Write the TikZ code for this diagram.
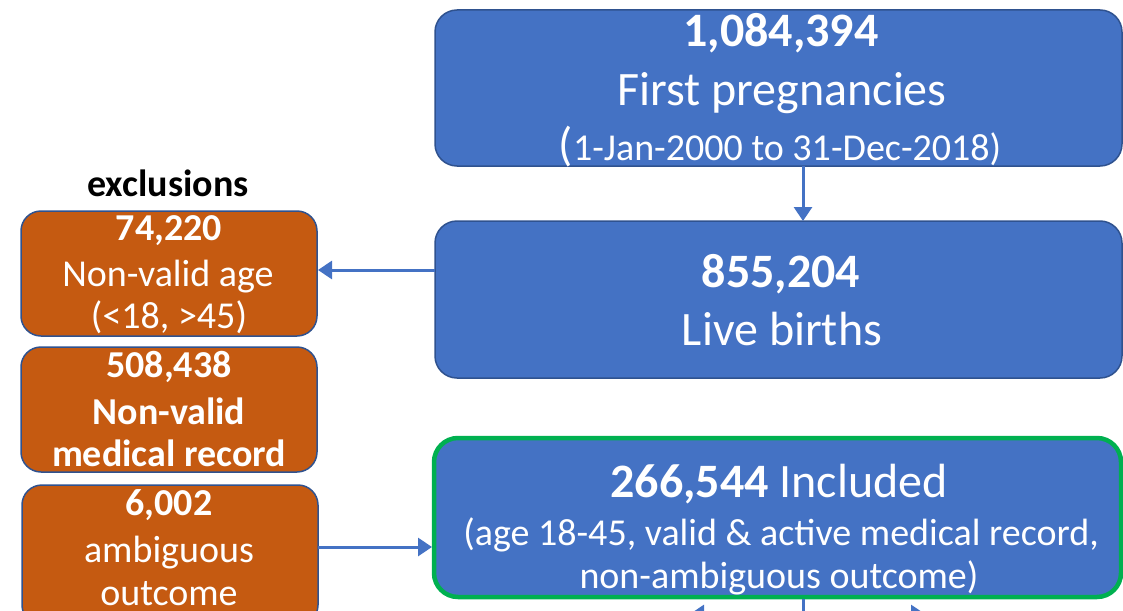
\documentclass[tikz,border=0pt]{standalone}
\usepackage{fontspec}
\setmainfont{Carlito}
\usetikzlibrary{arrows.meta}
\definecolor{boxblue}{HTML}{4472C4}
\definecolor{edgeblue}{HTML}{2F528F}
\definecolor{exorange}{HTML}{C55A11}
\definecolor{incgreen}{HTML}{00B050}
\tikzset{
  bluebox/.style={draw=edgeblue, line width=1.5pt, fill=boxblue, rounded corners=22pt},
  orangebox/.style={draw=edgeblue, line width=1.5pt, fill=exorange, rounded corners=20pt},
  greenbox/.style={draw=incgreen, line width=4.5pt, fill=boxblue, rounded corners=24pt},
  flowarrow/.style={draw=boxblue, line width=3pt, -{Triangle[length=14pt,width=18pt]}},
  flowline/.style={draw=boxblue, line width=3pt},
  bigtxt/.style={text=white, anchor=base, inner sep=0pt, font=\fontsize{48}{56}\selectfont},
  midtxt/.style={text=white, anchor=base, inner sep=0pt, font=\fontsize{38}{45}\selectfont},
  extxt/.style={text=white, anchor=base, inner sep=0pt, font=\fontsize{38}{45}\selectfont},
}
\begin{document}
\begin{tikzpicture}[x=1pt,y=-1pt]
\useasboundingbox (0,0) rectangle (1123,610);
\clip (0,0) rectangle (1123,610);
% blue boxes
\path[bluebox] (435,10) rectangle (1122,166);
\coordinate (topS) at (803,166);
\path[bluebox] (435,221) rectangle (1122,378);
\coordinate (liveN) at (803,221);
\coordinate (liveW) at (435,270);
\path[greenbox] (434,438) rectangle (1121,597);
\coordinate (incW) at (432,547);
\coordinate (incS) at (803,599);
% orange boxes
\path[orangebox] (21,211) rectangle (317,336);
\coordinate (ageE) at (318,270);
\path[orangebox] (21,347) rectangle (317,472);
\path[orangebox] (22,485) rectangle (318,625);
\coordinate (ambE) at (318,547);

% texts top box
\node[bigtxt] (t1) at (781,47) {\bfseries 1,084,394};
\node[bigtxt] (t2) at (782,105) {First pregnancies};
\node[midtxt] (t3) at (780,160) {{\fontsize{47}{54}\selectfont(}1-Jan-2000 to 31-Dec-2018)};
% live births
\node[bigtxt] (l1) at (781,287) {\bfseries 855,204};
\node[bigtxt] (l2) at (782,345) {Live births};
% included
\node[bigtxt] (i1) at (779,497) {\bfseries 266,544 \mdseries Included};
\node[midtxt] (i2) at (781,545) {(age 18-45, valid \& active medical record,};
\node[midtxt] (i3) at (779,588) {non-ambiguous outcome)};
% exclusions
\node[anchor=base, inner sep=0pt, font=\fontsize{38}{44}\selectfont\bfseries] (ex) at (168,196) {exclusions};
\node[extxt] (a1) at (169,240) {\bfseries 74,220};
\node[extxt] (a2) at (168,286) {Non-valid age};
\node[extxt] (a3) at (169,328) {(<18, >45)};
\node[extxt] (b1) at (169,377) {\bfseries 508,438};
\node[extxt] (b2) at (169,424) {\bfseries Non-valid};
\node[extxt] (b3) at (169,466) {\bfseries medical record};
\node[extxt] (c1) at (169,515) {\bfseries 6,002};
\node[extxt] (c2) at (169,562) {ambiguous};
\node[extxt] (c3) at (169,605) {outcome};

% arrows
\draw[flowarrow] (topS) -- (liveN);
\draw[flowarrow] (liveW) -- (ageE);
\draw[flowarrow] (ambE) -- (incW);
\coordinate (split) at (803,614);
\coordinate (leftT) at (690,614);
\coordinate (rightT) at (925,614);
\draw[flowline] (incS) -- (split);
\draw[flowarrow] (split) -- (leftT);
\draw[flowarrow] (split) -- (rightT);
\end{tikzpicture}
\end{document}
